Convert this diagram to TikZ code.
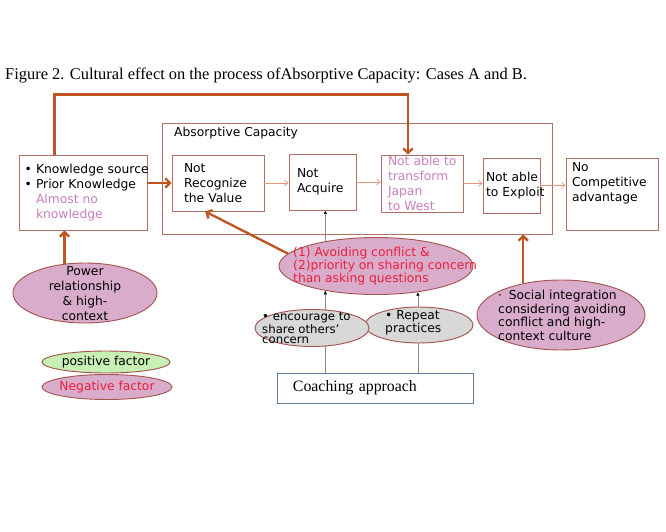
\documentclass[tikz,border=0pt]{standalone}
\usepackage{fontspec}
\setmainfont{Liberation Serif}
\setsansfont{DejaVu Sans}
\usetikzlibrary{arrows.meta}
\usetikzlibrary{shapes.geometric}
\usetikzlibrary{backgrounds}

\definecolor{loopline}{RGB}{190,85,35}
\definecolor{boxline}{RGB}{180,110,100}
\definecolor{stepline}{RGB}{230,150,125}
\definecolor{pinkfill}{RGB}{218,172,204}
\definecolor{ellline}{RGB}{165,85,80}
\definecolor{redtext}{RGB}{232,32,58}
\definecolor{pinktext}{RGB}{200,125,190}
\definecolor{greenfill}{RGB}{200,240,180}
\definecolor{grayfill}{RGB}{216,216,216}
\definecolor{coachline}{RGB}{95,125,155}
\definecolor{guideline}{RGB}{130,140,150}

\newcommand{\sansfont}{\sffamily\fontsize{10.5}{12.8}\selectfont}

\begin{document}
\begin{tikzpicture}[x=0.03cm, y=-0.03cm,
  box/.style={draw=boxline, line width=0.7pt, align=left, font=\sansfont, inner ysep=0pt},
  factor/.style={ellipse, draw=ellline, line width=0.8pt, inner sep=0pt},
  badfactor/.style={factor, fill=pinkfill},
  tool/.style={factor, fill=grayfill},
  label text/.style={font=\sansfont, align=left, inner sep=0pt},
  flow/.style={-{Straight Barb[length=3pt,width=5pt]}, stepline, line width=0.6pt},
  push/.style={-{Straight Barb[length=4pt,width=8pt]}, loopline, line width=2pt},
  guide/.style={guideline, line width=0.6pt, -{Latex[length=3pt,width=3pt,color=black]}}
]
\useasboundingbox (0,0) rectangle (666,532);

\node[anchor=west, inner sep=0pt, font=\fontsize{14}{16}\selectfont] (caption) at (5,75)
  {Figure 2. Cultural effect on the process ofAbsorptive Capacity: Cases A and B.};

% absorptive capacity frame
\node[box, minimum width=11.7cm, minimum height=3.33cm] (absorb) at (357,178.5) {};
\node[label text, anchor=west] (absorbtitle) at (174,133) {Absorptive Capacity};

% process boxes
\node[box, minimum width=3.84cm, minimum height=2.25cm, text width=3.5cm, inner xsep=0.17cm] (know) at (83,192.5)
  {\mbox{• Knowledge source}\\\mbox{• Prior Knowledge}\\\phantom{• }\textcolor{pinktext}{Almost no}\\\phantom{• }\textcolor{pinktext}{knowledge}};
\node[box, minimum width=2.76cm, minimum height=1.68cm, text width=2.04cm, inner xsep=0.36cm] (recog) at (218,183)
  {Not\\Recognize\\the Value};
\node[box, minimum width=2.01cm, minimum height=1.68cm, text width=1.53cm, inner xsep=0.24cm] (acq) at (322.5,182)
  {Not\\Acquire\\[3pt]};
\node[box, minimum width=2.46cm, minimum height=1.71cm, text width=2.04cm, inner xsep=0.21cm, text=pinktext] (trans) at (422,183.5)
  {\mbox{Not able to}\\transform\\Japan\\\mbox{to West}};
\node[box, minimum width=1.71cm, minimum height=1.65cm, text width=1.53cm, inner xsep=0.09cm] (expl) at (511.5,185.5)
  {\mbox{Not able}\\\mbox{to Exploit}\\[3pt]};
\node[box, minimum width=2.76cm, minimum height=2.16cm, inner xsep=0.18cm, inner ysep=0.13cm] (nocomp) at (612,194)
  {\parbox[c][1.9cm][t]{2.4cm}{No\\Competitive\\advantage}};

% coaching
\node[box, draw=coachline, minimum width=5.88cm, minimum height=0.9cm, text width=4.92cm, inner xsep=0.48cm,
  font=\fontsize{13.5}{15}\selectfont] (coach) at (375,388) {Coaching approach};

% factors
\node[badfactor, minimum width=5.82cm, minimum height=1.71cm] (avoid) at (376,266) {};
\node[label text, anchor=west, text=redtext, font=\sffamily\fontsize{10.5}{11}\selectfont] (avoidtext) at (293,266)
  {(1) Avoiding conflict \&\\(2)priority on sharing concern\\than asking questions};
\node[badfactor, minimum width=4.32cm, minimum height=1.8cm] (power) at (85,293) {};
\node[label text, align=center] (powertext) at (85,294) {Power\\relationship\\\& high-\\context};
\node[factor, fill=greenfill, minimum width=3.84cm, minimum height=0.66cm] (pos) at (106,362) {};
\node[label text] (postext) at (106,362) {positive factor};
\node[badfactor, minimum width=3.9cm, minimum height=0.75cm] (neg) at (107,387) {};
\node[label text, text=redtext] (negtext) at (107,387) {Negative factor};
\node[tool, minimum width=3.24cm, minimum height=1.08cm] (rep) at (419,325) {};
\node[tool, minimum width=3.42cm, minimum height=1.11cm] (enc) at (312,328) {};
\node[label text, anchor=west, font=\sffamily\fontsize{10}{9}\selectfont] (enctext) at (262,328)
  {• encourage to\\share others'\\concern};
\node[label text, anchor=west, font=\sffamily\fontsize{10.5}{11}\selectfont] (reptext) at (385,322.5)
  {• Repeat\\practices};
\node[badfactor, minimum width=5.04cm, minimum height=2.1cm] (social) at (561,315) {};
\node[label text, anchor=west, font=\sffamily\fontsize{10.5}{11.6}\selectfont] (socialtext) at (498,315.5)
  {·\hspace{0.2cm}Social integration\\considering avoiding\\conflict and high-\\context culture};

% connectors
\draw[push] ([xshift=1.08cm]know.north west) -- ++(0,-60) -| ([xshift=-0.42cm]trans.north);
\draw[push] (know.east |- recog.west) -- (recog.west);
\draw[flow] (recog.east) -- (recog.east -| acq.west);
\draw[flow] (acq.east) -- (acq.east -| trans.west);
\draw[flow] (trans.east) -- (trans.east -| expl.west);
\draw[flow] (expl.east) -- (expl.east -| nocomp.west);
\draw[push] (avoid.172) -- ([xshift=-0.39cm]recog.south);
\draw[push] (power.125) -- (power.125 |- know.south);
\draw[push] (social.140) -- (social.140 |- absorb.south);

\begin{scope}[on background layer]
\draw[guide] (avoid.206 |- coach.north) -- (avoid.206);
\draw[guide] (avoid.328 |- coach.north) -- (avoid.328);
\draw[guide] (avoid.154) -- (avoid.154 |- acq.south);
\end{scope}
\end{tikzpicture}
\end{document}
